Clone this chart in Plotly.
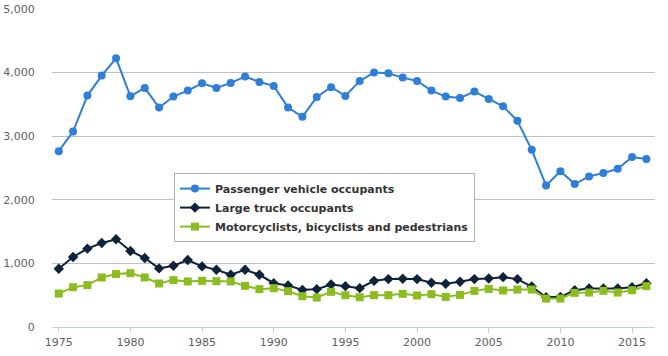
import plotly.graph_objects as go

years = list(range(1975, 2017))

passenger = [2764, 3073, 3639, 3953, 4225, 3628, 3759, 3450, 3623, 3717,
             3832, 3759, 3838, 3937, 3853, 3791, 3450, 3304, 3618, 3770,
             3634, 3869, 4000, 3990, 3921, 3869, 3717, 3623, 3602, 3702,
             3586, 3471, 3241, 2785, 2225, 2450, 2247, 2367, 2420, 2488,
             2672, 2641]

truck = [916, 1100, 1232, 1321, 1379, 1195, 1084, 921, 963, 1053,
         953, 900, 821, 900, 821, 689, 653, 584, 595, 668,
         642, 611, 726, 753, 758, 753, 695, 679, 711, 753,
         763, 784, 753, 637, 468, 474, 579, 605, 605, 605,
         626, 689]

vulnerable = [526, 626, 658, 779, 832, 847, 779, 684, 737, 716,
              726, 721, 716, 647, 595, 611, 563, 484, 463, 553,
              500, 468, 500, 500, 521, 495, 516, 474, 505, 568,
              600, 574, 589, 589, 447, 447, 537, 542, 568, 542,
              579, 642]

series_names = ["Passenger vehicle occupants", "Large truck occupants",
                "Motorcyclists, bicyclists and pedestrians"]
colors = ["#2f7ed8", "#0d233a", "#8bbc21"]
symbols = ["circle", "diamond", "square"]
sizes = [8, 8, 8]

fig = go.Figure()
for name, vals, col, sym, sz in zip(series_names, [passenger, truck, vulnerable], colors, symbols, sizes):
    fig.add_trace(go.Scatter(
        x=years, y=vals, name=name, mode="lines+markers",
        line=dict(color=col, width=2),
        marker=dict(color=col, symbol=sym, size=sz, line=dict(width=0)),
    ))

fig.update_layout(
    width=668, height=356,
    margin=dict(l=52, r=13, t=9, b=29),
    paper_bgcolor="white", plot_bgcolor="white",
    font=dict(family="DejaVu Sans, Verdana, Arial", size=11, color="#606060"),
    showlegend=True,
    legend=dict(
        x=0.2023, y=0.484, xanchor="left", yanchor="top",
        bgcolor="white", bordercolor="#b0b0b0", borderwidth=1,
        font=dict(family="DejaVu Sans, Verdana, Arial", size=11, color="#333333",
                  weight="bold"),
        tracegroupgap=0, itemwidth=30,
    ),
    xaxis=dict(
        range=[1974.53, 2016.6], tickmode="array",
        tickvals=[1975, 1980, 1985, 1990, 1995, 2000, 2005, 2010, 2015],
        ticks="outside", ticklen=5, tickcolor="#C0D0E0", tickwidth=1,
        showgrid=False, zeroline=False, automargin=False,
        showline=True, linecolor="#C0D0E0", linewidth=1,
        tickfont=dict(size=11, color="#606060"),
    ),
    yaxis=dict(
        range=[0, 5000], tickvals=[0, 1000, 2000, 3000, 4000, 5000],
        tickformat=",d", showgrid=True, gridcolor="#C0C0C0", gridwidth=1,
        zeroline=False, showline=False, automargin=False,
        ticks="outside", ticklen=14, tickcolor="rgba(0,0,0,0)",
        tickfont=dict(size=11, color="#606060"),
    ),
)

fig.write_html("out.html", config={"displayModeBar": False},
               post_script="document.body.style.margin='0';")
